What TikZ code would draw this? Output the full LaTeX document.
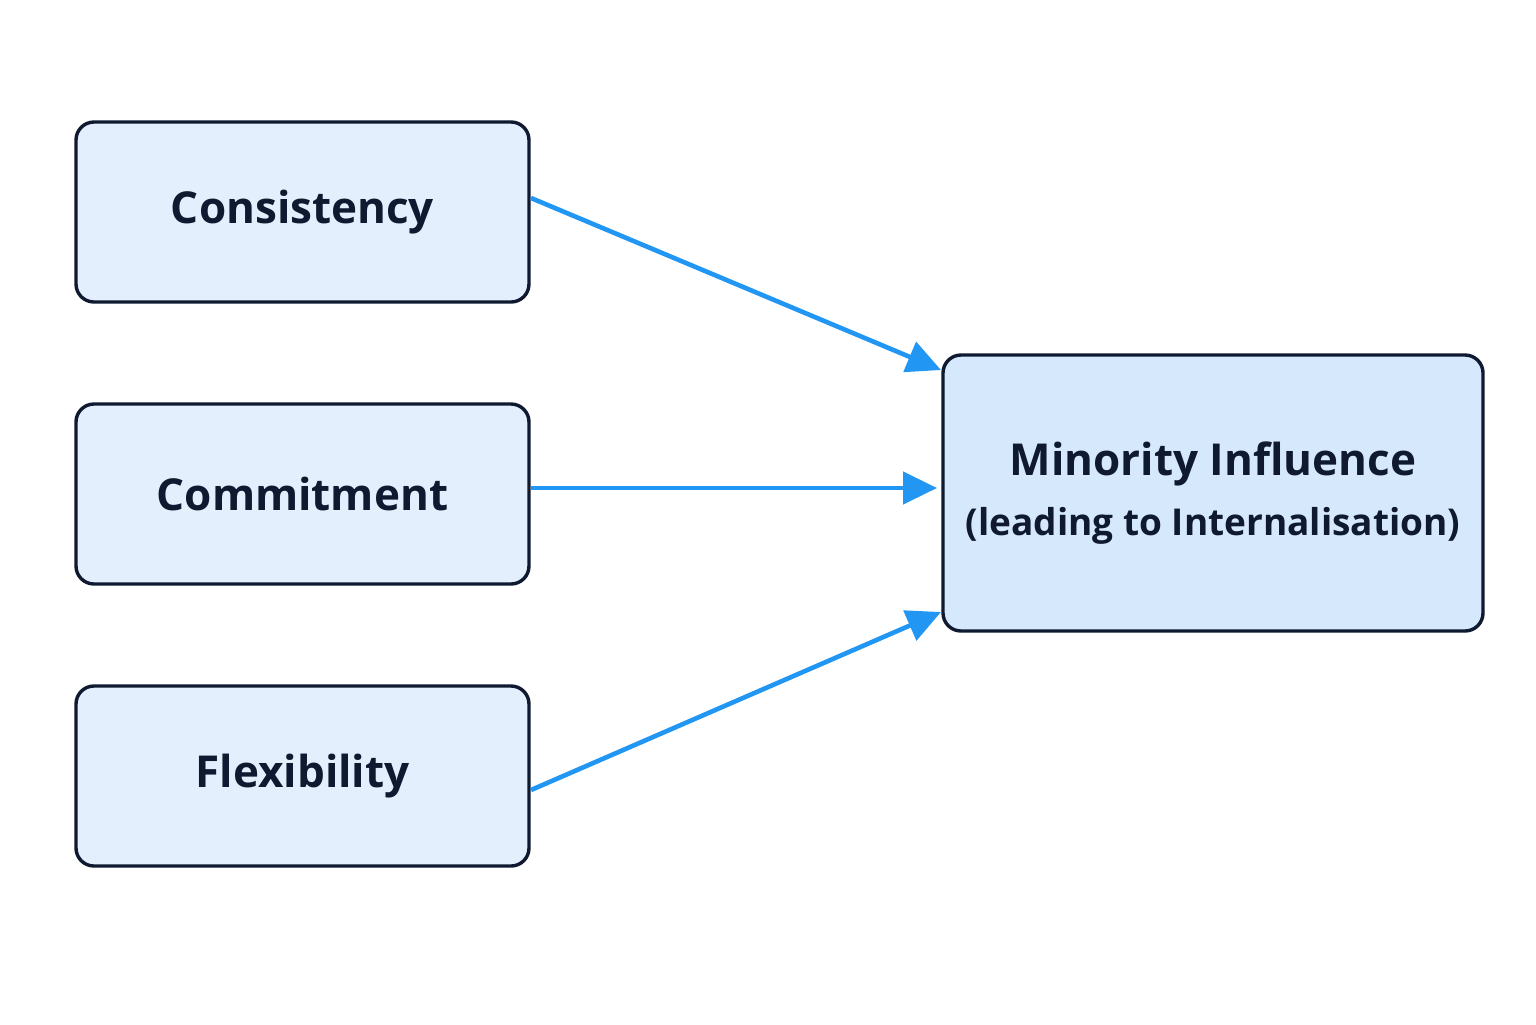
\documentclass[tikz,border=0pt]{standalone}
\usepackage{fontspec}
\setmainfont{Open Sans}
\usetikzlibrary{arrows.meta}
\definecolor{navy}{HTML}{0F1A30}
\definecolor{boxfill}{HTML}{E3EFFC}
\definecolor{mainfill}{HTML}{D6E8FB}
\definecolor{arrowblue}{HTML}{2196F3}
\begin{document}
\begin{tikzpicture}[x=0.5pt,y=-0.5pt,
  box/.style={draw=navy,line width=1.7pt,rounded corners=9pt,fill=boxfill,
    minimum width=226.5pt,minimum height=90pt,inner sep=0pt,
    font=\fontsize{22}{27}\selectfont\bfseries,text=navy},
  conn/.style={arrowblue,line width=2.3pt,-{Triangle[length=17pt,width=16pt]}}]
\useasboundingbox (0,0) rectangle (1536,1024);
\fill[white] (0,0) rectangle (1536,1024);
\node[box] (c) at (302.5,212) {\raisebox{-2.5pt}{Consistency}};
\node[box] (m) at (302.5,494) {\raisebox{-1.5pt}{Commitment}};
\node[box] (f) at (302.5,776) {\raisebox{-2.5pt}{Flexibility}};
\node[box,fill=mainfill,minimum width=270pt,minimum height=138pt,align=center] (mi) at (1213,493)
  {\fontsize{22}{27}\selectfont\bfseries Minority Influence\\[3pt]
   \fontsize{18.5}{23}\selectfont\bfseries (leading to Internalisation)};
\coordinate (c1) at (531,198); \coordinate (c2) at (941,370);
\coordinate (m1) at (531,488); \coordinate (m2) at (937,488);
\coordinate (f1) at (531,790); \coordinate (f2) at (941,612);
\draw[conn] (c1) -- (c2);
\draw[conn] (m1) -- (m2);
\draw[conn] (f1) -- (f2);
\end{tikzpicture}
\end{document}
